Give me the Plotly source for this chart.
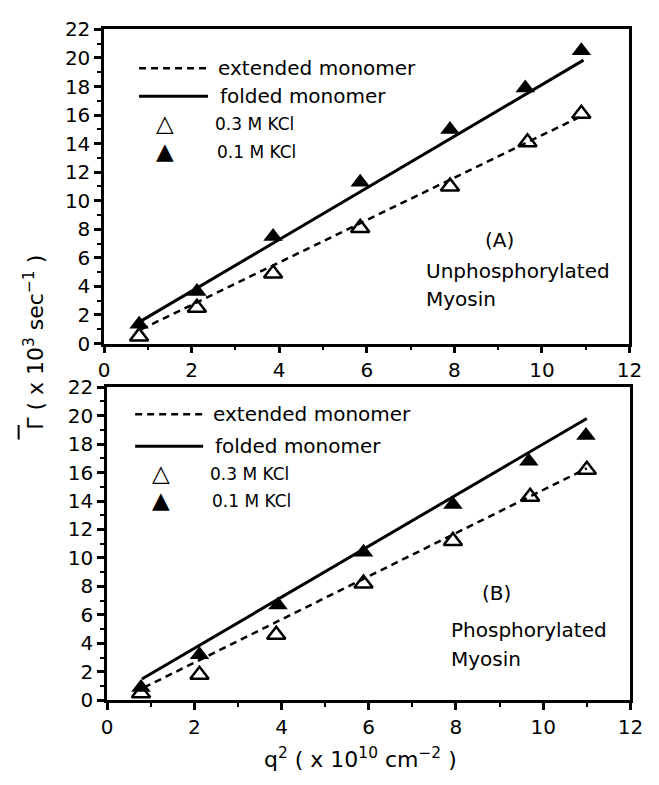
import plotly.graph_objects as go

# ---- Data ----
# Panel A: Unphosphorylated myosin
a_x_03 = [0.8, 2.12, 3.86, 5.85, 7.9, 9.67, 10.9]
a_y_03 = [0.5, 2.5, 4.9, 8.1, 11.0, 14.1, 16.1]
a_x_01 = [0.8, 2.12, 3.86, 5.85, 7.9, 9.62, 10.9]
a_y_01 = [1.35, 3.65, 7.5, 11.3, 15.0, 17.9, 20.5]
a_ext_x = [0.85, 10.95]
a_ext_y = [1.0, 16.0]
a_fold_x = [0.8, 10.95]
a_fold_y = [1.5, 19.85]

# Panel B: Phosphorylated myosin
b_x_03 = [0.78, 2.12, 3.88, 5.88, 7.93, 9.7, 11.0]
b_y_03 = [0.5, 1.8, 4.6, 8.2, 11.2, 14.3, 16.2]
b_x_01 = [0.78, 2.12, 3.92, 5.88, 7.93, 9.67, 10.98]
b_y_01 = [0.9, 3.2, 6.7, 10.4, 13.75, 16.8, 18.6]
b_ext_x = [0.85, 11.0]
b_ext_y = [0.9, 16.3]
b_fold_x = [0.8, 11.0]
b_fold_y = [1.5, 19.8]

x_ticks = [0, 2, 4, 6, 8, 10, 12]
y_ticks = [0, 2, 4, 6, 8, 10, 12, 14, 16, 18, 20, 22]

W, H = 659, 785
FONT = "DejaVu Sans"

fig = go.Figure()

def add_panel(xa, ya, ext_x, ext_y, fold_x, fold_y, x03, y03, x01, y01):
    fig.add_trace(go.Scatter(x=ext_x, y=ext_y, mode="lines", xaxis=xa, yaxis=ya,
                             line=dict(color="black", width=2.5, dash="7px,5px"), showlegend=False))
    fig.add_trace(go.Scatter(x=fold_x, y=fold_y, mode="lines", xaxis=xa, yaxis=ya,
                             line=dict(color="black", width=3), showlegend=False))
    fig.add_trace(go.Scatter(x=x03, y=y03, mode="markers", xaxis=xa, yaxis=ya,
                             marker=dict(symbol="triangle-up-open", size=16, color="black",
                                         line=dict(width=2.5, color="black")), showlegend=False))
    fig.add_trace(go.Scatter(x=x01, y=y01, mode="markers", xaxis=xa, yaxis=ya,
                             marker=dict(symbol="triangle-up", size=17, color="black"), showlegend=False))

add_panel("x", "y", a_ext_x, a_ext_y, a_fold_x, a_fold_y, a_x_03, a_y_03, a_x_01, a_y_01)
add_panel("x2", "y2", b_ext_x, b_ext_y, b_fold_x, b_fold_y, b_x_03, b_y_03, b_x_01, b_y_01)

def px_x(p):
    return p / W

def px_y(p):
    return 1 - p / H

common_x = dict(range=[0, 12], tickvals=x_ticks, ticks="outside", ticklen=7, tickwidth=2.5,
                tickcolor="black", showline=True, linewidth=2.5, linecolor="black", mirror=True,
                showgrid=False, zeroline=False, tickfont=dict(family=FONT, size=20, color="black"),
                minor=dict(dtick=1, ticks="outside", ticklen=4, tickwidth=2, tickcolor="black"),
                fixedrange=True)
common_y = dict(range=[0, 22], tickvals=y_ticks, ticks="outside", ticklen=7, tickwidth=2.5,
                tickcolor="black", showline=True, linewidth=2.5, linecolor="black", mirror=True,
                showgrid=False, zeroline=False, tickfont=dict(family=FONT, size=20, color="black"),
                minor=dict(dtick=1, ticks="outside", ticklen=4, tickwidth=2, tickcolor="black"),
                fixedrange=True)

fig.update_layout(
    width=W, height=H,
    margin=dict(l=0, r=0, t=0, b=0),
    paper_bgcolor="white", plot_bgcolor="white",
    showlegend=False,
    xaxis=dict(domain=[px_x(101), px_x(642)], anchor="y", **common_x),
    yaxis=dict(domain=[px_y(342), px_y(18)], anchor="x", **common_y),
    xaxis2=dict(domain=[px_x(104), px_x(643)], anchor="y2", **common_x),
    yaxis2=dict(domain=[px_y(710), px_y(387)], anchor="x2", **common_y),
)

shapes = []
ann = []

def text(t, x, y, size, xanchor="left"):
    ann.append(dict(text=t, x=px_x(x), y=px_y(y), xref="paper", yref="paper",
                    xanchor=xanchor, yanchor="middle", showarrow=False,
                    font=dict(family="DejaVu Sans", size=size, color="black")))

def legend(y_dash, y_solid, y_open, y_fill, x0, x1, tx, tri_x):
    shapes.append(dict(type="line", xref="paper", yref="paper", x0=px_x(x0), x1=px_x(x1),
                       y0=px_y(y_dash), y1=px_y(y_dash),
                       line=dict(color="black", width=2.5, dash="7px,5px")))
    shapes.append(dict(type="line", xref="paper", yref="paper", x0=px_x(x0), x1=px_x(x1),
                       y0=px_y(y_solid), y1=px_y(y_solid), line=dict(color="black", width=3)))
    text("extended monomer", tx, y_dash, 20)
    text("folded monomer", tx + 2, y_solid, 20)
    text("△", tri_x, y_open, 23, "center")
    text("▲", tri_x, y_fill, 23, "center")
    text("0.3 M KCl", tx - 3, y_open + 1, 17)
    text("0.1 M KCl", tx - 1, y_fill + 1, 17)

legend(58, 87, 115, 143, 137, 208, 216, 164)
legend(415, 448, 476, 503, 133, 203, 211, 160)

text("(A)", 508, 235, 20, "center")
text("Unphosphorylated", 430, 267, 20)
text("Myosin", 430, 296, 20)
text("(B)", 505, 599, 20, "center")
text("Phosphorylated", 456, 637, 20)
text("Myosin", 456, 667, 20)

# y-axis title (rotated) with overbar on Gamma
ann.append(dict(text="Γ ( x 10<sup>3</sup> sec<sup>−1</sup> )", x=px_x(28), y=px_y(341),
                xref="paper", yref="paper", textangle=-90, showarrow=False,
                xanchor="center", yanchor="middle",
                font=dict(family=FONT, size=22, color="black")))
shapes.append(dict(type="line", xref="paper", yref="paper", x0=px_x(13), x1=px_x(13),
                   y0=px_y(426), y1=px_y(441), line=dict(color="black", width=2)))
ann.append(dict(text="q<sup>2</sup> ( x 10<sup>10</sup> cm<sup>−2</sup> )", x=px_x(365), y=px_y(770),
                xref="paper", yref="paper", showarrow=False,
                xanchor="center", yanchor="middle",
                font=dict(family=FONT, size=22, color="black")))

fig.update_layout(shapes=shapes, annotations=ann)
fig.write_html("out.html")
